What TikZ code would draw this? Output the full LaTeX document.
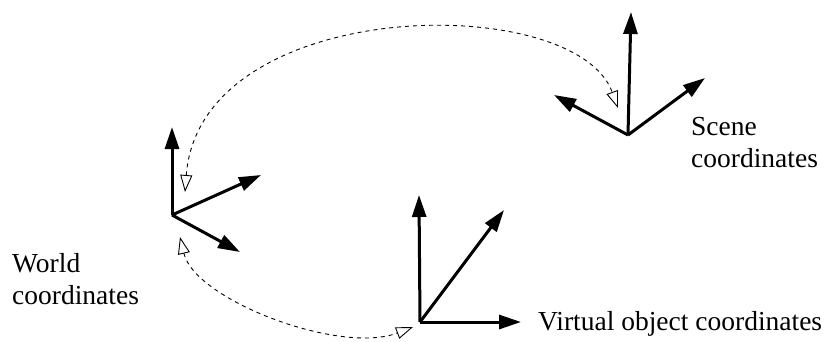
\documentclass[tikz,border=0pt]{standalone}
\usepackage{fontspec}
\setmainfont{Liberation Serif}
\usetikzlibrary{arrows.meta}
\begin{document}
\begin{tikzpicture}[x=1pt,y=-1pt,
  axis/.style={line width=3pt,-{Triangle[length=22pt,width=14pt]}},
  link/.style={line width=0.9pt,dash pattern=on 4pt off 4pt,
    {Triangle[open,length=17pt,width=12pt,line width=0.9pt]}-{Triangle[open,length=17pt,width=12pt,line width=0.9pt]}},
  lbl/.style={inner sep=0pt,font=\fontsize{27.5}{32}\selectfont,align=left}]
\useasboundingbox (0,0) rectangle (831,341);
% origins and tips
\coordinate (wo) at (172,215);
\coordinate (wz) at (172,127);
\coordinate (wx) at (261,175);
\coordinate (wy) at (240,252);
\coordinate (so) at (628,135);
\coordinate (sz) at (631,12);
\coordinate (sx) at (554,95);
\coordinate (sy) at (705,78);
\coordinate (vo) at (420,322);
\coordinate (vz) at (419,195);
\coordinate (vx) at (504,210);
\coordinate (vy) at (521,322);
% dashed link ends
\coordinate (wtop) at (185,192);
\coordinate (stop) at (618,108);
\coordinate (wbot) at (180,237);
\coordinate (vend) at (413,327);
% axes
\draw[axis] (wo) -- (wz);
\draw[axis] (wo) -- (wx);
\draw[axis] (wo) -- (wy);
\draw[axis] (so) -- (sz);
\draw[axis] (so) -- (sx);
\draw[axis] (so) -- (sy);
\draw[axis] (vo) -- (vz);
\draw[axis] (vo) -- (vx);
\draw[axis] (vo) -- (vy);
% dashed links
\draw[link] (wtop) .. controls (200,-5) and (575,-10) .. (stop);
\draw[link] (wbot) .. controls (195,300) and (340,355) .. (vend);
% labels
\node[lbl,anchor=north west] (scene) at (691,117) {Scene\\coordinates};
\node[lbl,anchor=north west] (world) at (12,253) {World\\coordinates};
\node[lbl,anchor=base west] (virt) at (538,330) {Virtual object coordinates};
\end{tikzpicture}
\end{document}
